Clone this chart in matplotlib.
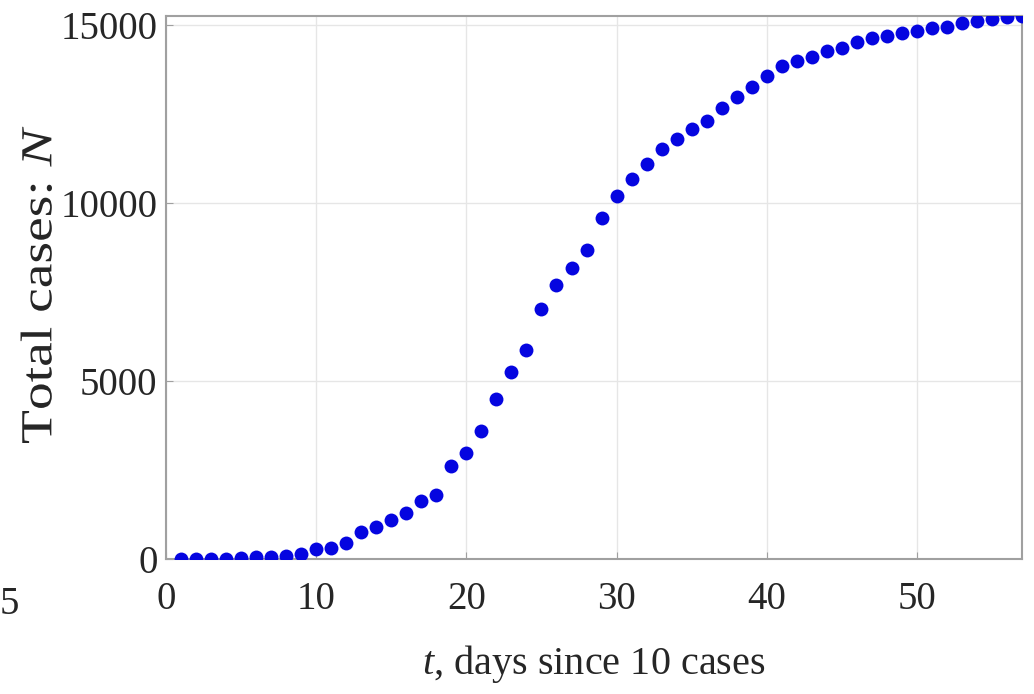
import matplotlib
matplotlib.use("Agg")
import matplotlib.pyplot as plt
from matplotlib.textpath import TextPath
from matplotlib.patches import PathPatch
from matplotlib.font_manager import FontProperties
from matplotlib.transforms import Affine2D

plt.rcParams['font.family'] = ['Liberation Serif', 'DejaVu Serif']
plt.rcParams['mathtext.fontset'] = 'custom'
plt.rcParams['mathtext.rm'] = 'Liberation Serif'
plt.rcParams['mathtext.it'] = 'Liberation Serif:italic'

# data
days = list(range(1, 58))
cases = [0, 0, 0, 10, 20, 50, 65, 85, 140, 270,
         300, 460, 750, 910, 1100, 1290, 1620, 1810, 2610, 2990,
         3610, 4490, 5260, 5880, 7030, 7710, 8180, 8680, 9580, 10210,
         10690, 11110, 11530, 11790, 12070, 12310, 12660, 12980, 13270, 13580,
         13840, 14000, 14100, 14270, 14360, 14520, 14640, 14710, 14780, 14850,
         14920, 14960, 15060, 15110, 15180, 15220, 15260]
xticks = [0, 10, 20, 30, 40, 50]
yticks = [0, 5000, 10000, 15000]

txt = '#262626'
dpi = 100
fig = plt.figure(figsize=(10.34, 6.94), dpi=dpi)
ax = fig.add_axes([0.1605, 0.1945, 0.828, 0.7825])

ax.plot(days, cases, 'o', color='#0505e0', markersize=10, markeredgewidth=0, zorder=3)

ax.set_xlim(0, 57)
ax.set_ylim(0, 15260)
ax.set_xticks(xticks)
ax.set_yticks(yticks)
ax.grid(True, color='#e6e6e6', linewidth=1)
ax.set_axisbelow(True)
for s in ax.spines.values():
    s.set_color('#a0a0a0')
    s.set_linewidth(1.5)
ax.tick_params(direction='in', length=5, color='#a0a0a0', labelsize=28,
               labelcolor=txt, pad=6)
ax.tick_params(axis='x', pad=16)

ax.set_xlabel('$t$, days since 10 cases', fontsize=29, color=txt, labelpad=18)

# y label drawn as a path, stretched along its length like the reference
tp = TextPath((0, 0), 'Total cases: $N$', size=32,
              prop=FontProperties(family='Liberation Serif'))
k = dpi / 72
tr = Affine2D().rotate_deg(90).scale(k, k * 1.25)
ext = tp.transformed(tr).get_extents()
tr = tr.translate(52 - ext.x1, 251 - ext.y0)
fig.add_artist(PathPatch(tp, transform=tr, facecolor=txt, edgecolor='none'))

# cut-off tick label from the neighbouring panel
fig.text(0.0, 0.115, '5', fontsize=28, color=txt)

fig.savefig('out.png', dpi=dpi)
